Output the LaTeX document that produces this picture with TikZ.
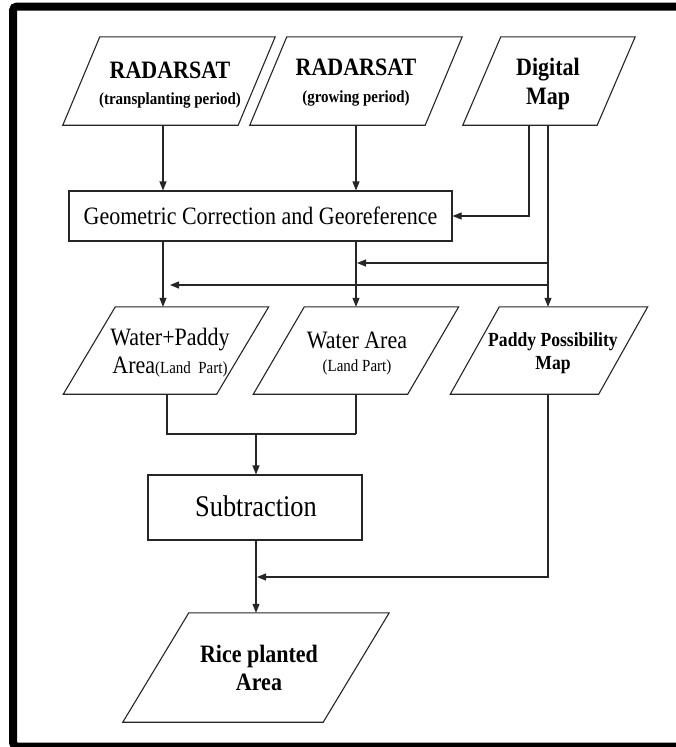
\documentclass[tikz,border=0pt]{standalone}
\usepackage{fontspec}
\setmainfont{Liberation Serif}[FakeStretch=0.88]
\usetikzlibrary{arrows.meta,calc}
\newcommand\fs[2]{\fontsize{#1}{#2}\selectfont}
\newcommand\mypara[2]{\draw[line] ([xshift=#2*0.5pt]#1.north west) -- ([xshift=#2*0.5pt]#1.north east) -- ([xshift=-#2*0.5pt]#1.south east) -- ([xshift=-#2*0.5pt]#1.south west) -- cycle;}
\begin{document}
\begin{tikzpicture}[x=1pt,y=-1pt,
  line/.style={line width=1.1pt, draw=black!85},
  arr/.style={line, -{Triangle[length=9pt,width=7pt]}},
  pshape/.style={inner sep=0pt, draw=none},
  rbox/.style={line, inner sep=0pt},
  txt/.style={inner sep=0pt, align=center, text=black}]
\useasboundingbox (0,0) rectangle (675,747);
\fill[white] (0,0) rectangle (675,747);
\draw[line width=8pt, rounded corners=4pt] (13,6.5) rectangle (682,746.5);

% shapes
\node[pshape, minimum width=175pt, minimum height=88pt] (R1) at (169,81) {};
\node[pshape, minimum width=175pt, minimum height=88pt] (R2) at (356,81) {};
\node[pshape, minimum width=134pt, minimum height=88pt] (DM) at (549,81) {};
\node[rbox, minimum width=383pt, minimum height=50pt] (Geo) at (260.5,216) {};
\node[pshape, minimum width=153pt, minimum height=87pt] (WP) at (166,350.5) {};
\node[pshape, minimum width=154pt, minimum height=87pt] (WA) at (356,350.5) {};
\node[pshape, minimum width=148pt, minimum height=87pt] (PP) at (549,350.5) {};
\node[rbox, minimum width=214pt, minimum height=65pt] (Sub) at (255,507.5) {};
\node[pshape, minimum width=200pt, minimum height=109pt] (Rice) at (256,667.5) {};
\mypara{R1}{37}
\mypara{R2}{37}
\mypara{DM}{38}
\mypara{WP}{52}
\mypara{WA}{51}
\mypara{PP}{49}
\mypara{Rice}{66}

% texts
\node[txt, font=\fs{25}{26}\bfseries] (R1t) at (170,85) {RADARSAT\\{\fs{17}{26}(transplanting period)}};
\node[txt, font=\fs{25}{27}\bfseries] (R2t) at (356,83) {RADARSAT\\{\fs{17}{27}(growing period)}};
\node[txt, font=\fs{25}{29}\bfseries] (DMt) at (548,83.5) {Digital\\Map};
\node[txt, font=\fs{25}{28}] (Geot) at (Geo.center) {Geometric Correction and Georeference};
\node[txt, font=\fs{25}{28}] (WPt) at (170,353) {Water+Paddy\\Area{\fs{17}{28}(Land~~Part)}};
\node[txt, font=\fs{25}{23}] (WAt) at (357,354) {Water Area\\{\fs{17}{23}(Land Part)}};
\node[txt, font=\fs{20}{23}\bfseries] (PPt) at (553,353) {Paddy Possibility\\Map};
\node[txt, font=\fs{30}{32}] (Subt) at (256,506.5) {Subtraction};
\node[txt, font=\fs{25}{28}\bfseries] (Ricet) at (259,667.5) {Rice planted\\Area};

% columns and junctions
\coordinate (colA) at (163,0);
\coordinate (colA2) at (167,0);
\coordinate (colB) at (356,0);
\coordinate (colC) at (256,0);
\coordinate (colD) at (529,0);
\coordinate (colE) at (548,0);
\coordinate (j1) at (548,263);
\coordinate (t1) at (357,263);
\coordinate (j2) at (548,285);
\coordinate (t2) at (170,285);
\coordinate (m) at (356,434);
\coordinate (p) at (257,577);

% connectors
\draw[arr] (R1.south -| colA) -- (Geo.north -| colA);
\draw[arr] (R2.south -| colB) -- (Geo.north -| colB);
\draw[arr] (DM.south -| colD) |- (Geo.east);
\draw[arr] (DM.south -| colE) -- (PP.north -| colE);
\draw[arr] (j1) -- (t1);
\draw[arr] (j2) -- (t2);
\draw[arr] (Geo.south -| colA) -- (WP.north -| colA);
\draw[arr] (Geo.south -| colB) -- (WA.north -| colB);
\draw[line] (WP.south -| colA2) |- (m);
\draw[line] (WA.south -| colB) -- (m);
\draw[arr] (m -| colC) -- (Sub.north -| colC);
\draw[arr] (Sub.south -| colC) -- (Rice.north -| colC);
\draw[arr] (PP.south -| colE) |- (p);
\end{tikzpicture}
\end{document}
